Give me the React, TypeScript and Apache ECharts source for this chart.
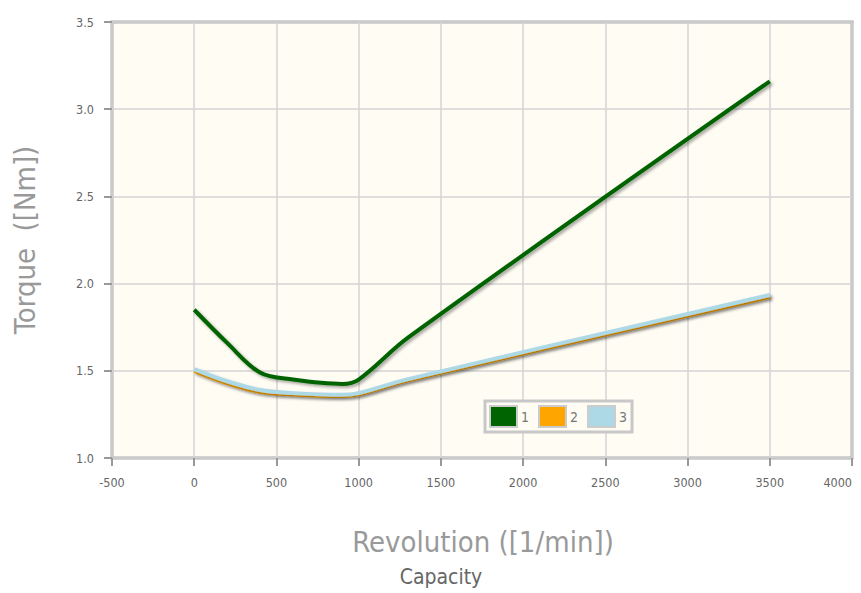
import React, { useEffect, useRef } from "react";
import * as echarts from "echarts";

const rpm1 = [0, 200, 400, 600, 900, 1000, 1300, 3500];
const torque1 = [1.85, 1.66, 1.49, 1.45, 1.425, 1.45, 1.69, 3.16];
const rpm2 = [0, 200, 400, 600, 900, 1000, 1300, 3500];
const torque2 = [1.5, 1.43, 1.38, 1.365, 1.355, 1.365, 1.445, 1.925];
const rpm3 = [0, 200, 400, 600, 900, 1000, 1300, 3500];
const torque3 = [1.51, 1.44, 1.39, 1.372, 1.362, 1.372, 1.452, 1.935];
const seriesNames = ["1", "2", "3"];
const seriesColors = ["#006400", "#FFA500", "#ADD8E6"];

const FONT = "'Liberation Sans Narrow', 'DejaVu Sans Condensed', 'Roboto Condensed', sans-serif";

export default function App() {
  const ref = useRef<HTMLDivElement>(null);
  useEffect(() => {
    const chart = echarts.init(ref.current!, null, { renderer: "svg" });
    const pairs = [
      rpm1.map((x, i) => [x, torque1[i]]),
      rpm2.map((x, i) => [x, torque2[i]]),
      rpm3.map((x, i) => [x, torque3[i]]),
    ];
    chart.setOption({
      animation: false,
      grid: {
        left: 112,
        right: 9,
        top: 22,
        bottom: 135,
        containLabel: false,
        outerBoundsMode: "none",
        show: true,
        backgroundColor: "#fffcf4",
        borderColor: "#aaa",
        borderWidth: 3,
      },
      legend: {
        left: 485,
        top: 401,
        orient: "horizontal",
        data: seriesNames,
        icon: "rect",
        itemWidth: 27,
        itemHeight: 21,
        itemGap: 9,
        padding: [4, 5, 4, 4],
        borderColor: "#c8c8c8",
        borderWidth: 3,
        backgroundColor: "#fffcf4",
        textStyle: { color: "#777", fontSize: 14, fontFamily: FONT, padding: [0, 0, 0, -1] },
        itemStyle: { borderColor: "#ccc", borderWidth: 2 },
      },
      xAxis: {
        type: "value",
        min: -500,
        max: 4000,
        interval: 500,
        axisLine: { show: true, onZero: false, lineStyle: { color: "#999", width: 3, shadowColor: "rgba(0,0,0,0.25)", shadowBlur: 3, shadowOffsetY: 2 } },
        axisTick: { show: true, inside: false, length: 8, lineStyle: { color: "#999", width: 2 } },
        axisLabel: { color: "#666", fontSize: 12.5, fontFamily: FONT, margin: 18, alignMaxLabel: "right", formatter: (v: number) => String(v) },
        splitLine: { show: true, lineStyle: { color: "#d4d4d4", width: 1.5 } },
      },
      yAxis: {
        type: "value",
        min: 1,
        max: 3.5,
        interval: 0.5,
        axisLine: { show: true, onZero: false, lineStyle: { color: "#999", width: 3, shadowColor: "rgba(0,0,0,0.25)", shadowBlur: 3, shadowOffsetX: 2 } },
        axisTick: { show: true, inside: false, length: 8, lineStyle: { color: "#999", width: 2 } },
        axisLabel: { color: "#666", fontSize: 12.5, fontFamily: FONT, margin: 18, formatter: (v: number) => v.toFixed(1) },
        splitLine: { show: true, lineStyle: { color: "#d4d4d4", width: 1.5 } },
      },
      graphic: [
        {
          type: "text",
          x: 483,
          y: 542,
          style: { text: "Revolution ([1/min])", fill: "#999", fontSize: 29, fontFamily: FONT, align: "center", verticalAlign: "middle" },
        },
        {
          type: "text",
          x: 441,
          y: 577,
          style: { text: "Capacity", fill: "#666", fontSize: 21, fontFamily: FONT, align: "center", verticalAlign: "middle" },
        },
        {
          type: "text",
          x: 25,
          y: 240,
          rotation: Math.PI / 2,
          style: { text: "Torque  ([Nm])", fill: "#999", fontSize: 29, fontFamily: FONT, align: "center", verticalAlign: "middle" },
        },
      ],
      series: seriesNames.map((name, i) => ({
        name,
        type: "line",
        data: pairs[i],
        smooth: 0.35,
        showSymbol: false,
        symbol: "none",
        color: seriesColors[i],
        lineStyle: {
          color: seriesColors[i],
          width: 4,
          shadowColor: "rgba(0,0,0,0.35)",
          shadowBlur: 3,
          shadowOffsetX: 2,
          shadowOffsetY: 2,
        },
      })),
    });
    return () => chart.dispose();
  }, []);
  return <div ref={ref} style={{ width: 861, height: 593, position: "absolute", left: 0, top: 0 }} />;
}
